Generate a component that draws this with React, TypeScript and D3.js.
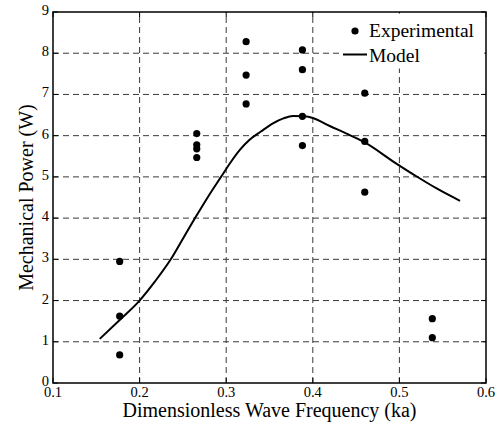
import React from "react";
import * as d3 from "d3";

const expX: number[] = [0.177, 0.177, 0.177, 0.266, 0.266, 0.266, 0.266, 0.323, 0.323, 0.323, 0.388, 0.388, 0.388, 0.388, 0.46, 0.46, 0.46, 0.538, 0.538];
const expY: number[] = [2.95, 1.62, 0.68, 6.05, 5.78, 5.68, 5.47, 8.28, 7.47, 6.77, 8.08, 7.6, 6.47, 5.76, 7.03, 5.86, 4.63, 1.56, 1.1];

const modelX: number[] = [0.154, 0.177, 0.2, 0.218, 0.236, 0.25, 0.264, 0.28, 0.294, 0.305, 0.316, 0.327, 0.34, 0.354, 0.366, 0.377, 0.39, 0.4, 0.419, 0.439, 0.458, 0.496, 0.52, 0.543, 0.57];
const modelY: number[] = [1.07, 1.53, 2.0, 2.47, 3.0, 3.5, 4.0, 4.55, 5.0, 5.35, 5.66, 5.9, 6.1, 6.3, 6.42, 6.48, 6.47, 6.43, 6.24, 6.05, 5.86, 5.33, 5.01, 4.72, 4.42];

const xTicks: number[] = [0.1, 0.2, 0.3, 0.4, 0.5, 0.6];
const yTicks: number[] = [0, 1, 2, 3, 4, 5, 6, 7, 8, 9];

const W = 504, H = 423;
const L = 53, R = 486, T = 12, B = 383;
const font = "Liberation Serif, Times New Roman, serif";

export default function App() {
  const x = d3.scaleLinear().domain([0.1, 0.6]).range([L, R]);
  const y = d3.scaleLinear().domain([0, 9]).range([B, T]);
  const line = d3.line<number>().x((_, i) => x(modelX[i])).y((d) => y(d)).curve(d3.curveMonotoneX);
  const grid = "#3a3a3a";
  return (
    <div style={{ position: "fixed", left: 0, top: 0 }}>
      <svg width={W} height={H} fontFamily={font} style={{ display: "block", background: "#fff" }}>
        <rect x={0} y={0} width={W} height={H} fill="#fff" />
        {xTicks.slice(1, -1).map((t) => (
          <line key={"gx" + t} x1={x(t)} x2={x(t)} y1={B} y2={T} stroke={grid} strokeWidth={1} strokeDasharray="6,4" />
        ))}
        {yTicks.slice(1, -1).map((t) => (
          <line key={"gy" + t} x1={L} x2={R} y1={y(t)} y2={y(t)} stroke={grid} strokeWidth={1} strokeDasharray="6,4" />
        ))}
        {xTicks.map((t) => (
          <g key={"tx" + t}>
            <line x1={x(t)} x2={x(t)} y1={B} y2={B - 5} stroke="#000" />
            <line x1={x(t)} x2={x(t)} y1={T} y2={T + 5} stroke="#000" />
            <text x={x(t)} y={B + 14} textAnchor="middle" fontFamily={font} fontSize={14.5}>{d3.format(".1f")(t)}</text>
          </g>
        ))}
        {yTicks.map((t) => (
          <g key={"ty" + t}>
            <line x1={L} x2={L + 5} y1={y(t)} y2={y(t)} stroke="#000" />
            <line x1={R} x2={R - 5} y1={y(t)} y2={y(t)} stroke="#000" />
            <text x={49} y={y(t) + 3} textAnchor="end" fontFamily={font} fontSize={14.5}>{t}</text>
          </g>
        ))}
        <path d={line(modelY) || ""} fill="none" stroke="#000" strokeWidth={2} />
        {expX.map((v, i) => (
          <circle key={"p" + i} cx={x(v)} cy={y(expY[i])} r={3.6} fill="#000" />
        ))}
        <rect x={341} y={13.5} width={143.5} height={55} fill="#fff" />
        <circle cx={355} cy={31} r={3.6} fill="#000" />
        <text x={369} y={37} fontFamily={font} fontSize={19.5}>Experimental</text>
        <line x1={343} x2={367} y1={54.5} y2={54.5} stroke="#000" strokeWidth={2} />
        <text x={369} y={62} fontFamily={font} fontSize={19.5}>Model</text>
        <rect x={L} y={T} width={R - L} height={B - T} fill="none" stroke="#000" strokeWidth={1.5} />
        <text x={(L + R) / 2} y={417} textAnchor="middle" fontFamily={font} fontSize={20}>Dimensionless Wave Frequency (ka)</text>
        <text transform={`translate(33,${(T + B) / 2}) rotate(-90)`} textAnchor="middle" fontFamily={font} fontSize={20}>Mechanical Power (W)</text>
      </svg>
    </div>
  );
}
